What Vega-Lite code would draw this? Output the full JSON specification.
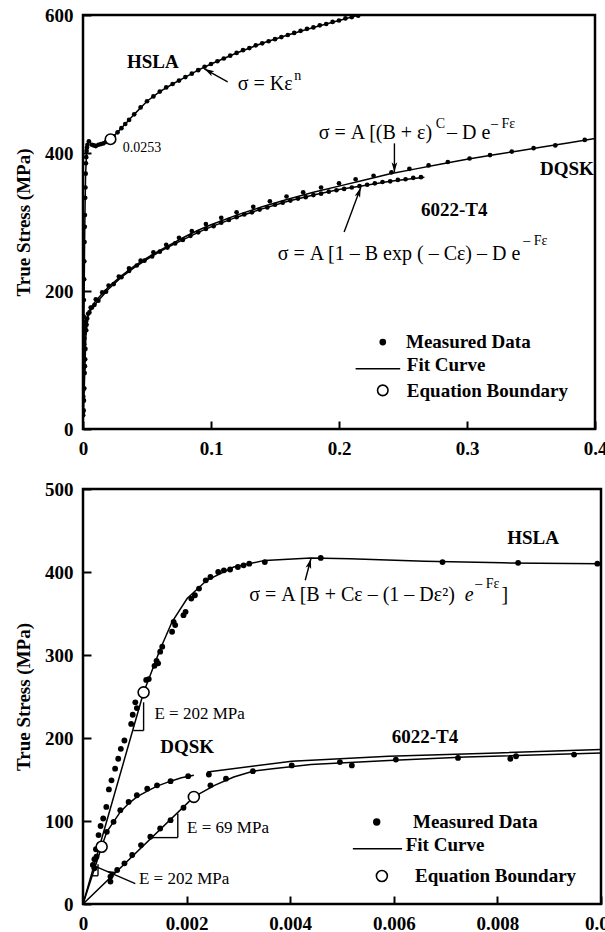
{
  "$schema": "https://vega.github.io/schema/vega-lite/v6.json",
  "background": "white",
  "padding": {"left": 13, "top": 4, "right": 0, "bottom": 0},
  "spacing": 60,
  "bounds": "flush",
  "config": {
    "font": "Liberation Serif",
    "view": {"stroke": "black", "strokeWidth": 2.5},
    "axis": {
      "labelFont": "Liberation Serif", "labelFontWeight": "bold", "labelFontSize": 19, "labelColor": "black",
      "titleFont": "Liberation Serif", "titleFontWeight": "bold", "titleFontSize": 19, "titleColor": "black",
      "titlePadding": 11,
      "domain": false, "grid": false, "tickColor": "black", "tickWidth": 2, "tickSize": -8,
      "labelPadding": 18, "labelFlush": false, "labelOverlap": false
    }
  },
  "datasets": {
    "measured": [
      {"panel":"top","curve":"HSLA","x":0.0001,"y":25},{"panel":"top","curve":"HSLA","x":0.0002,"y":47},{"panel":"top","curve":"HSLA","x":0.0003,"y":83},{"panel":"top","curve":"HSLA","x":0.0004,"y":103},{"panel":"top","curve":"HSLA","x":0.0005,"y":138},{"panel":"top","curve":"HSLA","x":0.0006,"y":163},{"panel":"top","curve":"HSLA","x":0.0007,"y":187},{"panel":"top","curve":"HSLA","x":0.0009,"y":217},{"panel":"top","curve":"HSLA","x":0.001,"y":243},{"panel":"top","curve":"HSLA","x":0.0012,"y":271},{"panel":"top","curve":"HSLA","x":0.0014,"y":293},{"panel":"top","curve":"HSLA","x":0.0015,"y":310},{"panel":"top","curve":"HSLA","x":0.0017,"y":335},{"panel":"top","curve":"HSLA","x":0.0019,"y":350},{"panel":"top","curve":"HSLA","x":0.0021,"y":370},{"panel":"top","curve":"HSLA","x":0.0023,"y":385},{"panel":"top","curve":"HSLA","x":0.0025,"y":394},{"panel":"top","curve":"HSLA","x":0.0028,"y":403},{"panel":"top","curve":"HSLA","x":0.0031,"y":408},{"panel":"top","curve":"HSLA","x":0.0035,"y":412},{"panel":"top","curve":"HSLA","x":0.0046,"y":417},{"panel":"top","curve":"HSLA","x":0.007,"y":412},{"panel":"top","curve":"HSLA","x":0.0085,"y":411},{"panel":"top","curve":"HSLA","x":0.01,"y":410},{"panel":"top","curve":"HSLA","x":0.012,"y":412},{"panel":"top","curve":"HSLA","x":0.014,"y":413},{"panel":"top","curve":"HSLA","x":0.016,"y":414},{"panel":"top","curve":"HSLA","x":0.018,"y":416},{"panel":"top","curve":"HSLA","x":0.024,"y":424},{"panel":"top","curve":"HSLA","x":0.027,"y":430},{"panel":"top","curve":"HSLA","x":0.03,"y":436},{"panel":"top","curve":"HSLA","x":0.033,"y":442},{"panel":"top","curve":"HSLA","x":0.036,"y":448},{"panel":"top","curve":"HSLA","x":0.04,"y":456},{"panel":"top","curve":"HSLA","x":0.045,"y":466},{"panel":"top","curve":"HSLA","x":0.05,"y":475},{"panel":"top","curve":"HSLA","x":0.055,"y":482},{"panel":"top","curve":"HSLA","x":0.06,"y":489},{"panel":"top","curve":"HSLA","x":0.065,"y":495},{"panel":"top","curve":"HSLA","x":0.07,"y":500},{"panel":"top","curve":"HSLA","x":0.075,"y":505},{"panel":"top","curve":"HSLA","x":0.08,"y":510},{"panel":"top","curve":"HSLA","x":0.085,"y":515},{"panel":"top","curve":"HSLA","x":0.09,"y":520},{"panel":"top","curve":"HSLA","x":0.095,"y":525},{"panel":"top","curve":"HSLA","x":0.1,"y":529},{"panel":"top","curve":"HSLA","x":0.105,"y":533},{"panel":"top","curve":"HSLA","x":0.11,"y":537},{"panel":"top","curve":"HSLA","x":0.115,"y":541},{"panel":"top","curve":"HSLA","x":0.12,"y":545},{"panel":"top","curve":"HSLA","x":0.125,"y":549},{"panel":"top","curve":"HSLA","x":0.13,"y":552},{"panel":"top","curve":"HSLA","x":0.135,"y":556},{"panel":"top","curve":"HSLA","x":0.14,"y":559},{"panel":"top","curve":"HSLA","x":0.145,"y":562},{"panel":"top","curve":"HSLA","x":0.15,"y":565},{"panel":"top","curve":"HSLA","x":0.155,"y":568},{"panel":"top","curve":"HSLA","x":0.16,"y":571},{"panel":"top","curve":"HSLA","x":0.165,"y":574},{"panel":"top","curve":"HSLA","x":0.17,"y":577},{"panel":"top","curve":"HSLA","x":0.175,"y":580},{"panel":"top","curve":"HSLA","x":0.18,"y":582},{"panel":"top","curve":"HSLA","x":0.185,"y":585},{"panel":"top","curve":"HSLA","x":0.19,"y":587},{"panel":"top","curve":"HSLA","x":0.195,"y":590},{"panel":"top","curve":"HSLA","x":0.2,"y":592},{"panel":"top","curve":"HSLA","x":0.205,"y":595},{"panel":"top","curve":"HSLA","x":0.21,"y":597},{"panel":"top","curve":"HSLA","x":0.215,"y":599},
      {"panel":"top","curve":"DQSK","x":0.0001,"y":20},{"panel":"top","curve":"DQSK","x":0.0002,"y":43},{"panel":"top","curve":"DQSK","x":0.0003,"y":57},{"panel":"top","curve":"DQSK","x":0.0004,"y":87},{"panel":"top","curve":"DQSK","x":0.0005,"y":99},{"panel":"top","curve":"DQSK","x":0.0006,"y":109},{"panel":"top","curve":"DQSK","x":0.0007,"y":113},{"panel":"top","curve":"DQSK","x":0.0009,"y":123},{"panel":"top","curve":"DQSK","x":0.001,"y":131},{"panel":"top","curve":"DQSK","x":0.0012,"y":139},{"panel":"top","curve":"DQSK","x":0.0014,"y":143},{"panel":"top","curve":"DQSK","x":0.0017,"y":148},{"panel":"top","curve":"DQSK","x":0.002,"y":154},{"panel":"top","curve":"DQSK","x":0.0024,"y":156},{"panel":"top","curve":"DQSK","x":0.004,"y":167},{"panel":"top","curve":"DQSK","x":0.006,"y":176},{"panel":"top","curve":"DQSK","x":0.01,"y":188},{"panel":"top","curve":"DQSK","x":0.015,"y":198},{"panel":"top","curve":"DQSK","x":0.02,"y":208},{"panel":"top","curve":"DQSK","x":0.028,"y":221},{"panel":"top","curve":"DQSK","x":0.036,"y":233},{"panel":"top","curve":"DQSK","x":0.045,"y":244},{"panel":"top","curve":"DQSK","x":0.055,"y":256},{"panel":"top","curve":"DQSK","x":0.065,"y":267},{"panel":"top","curve":"DQSK","x":0.075,"y":277},{"panel":"top","curve":"DQSK","x":0.085,"y":287},{"panel":"top","curve":"DQSK","x":0.096,"y":297},{"panel":"top","curve":"DQSK","x":0.108,"y":306},{"panel":"top","curve":"DQSK","x":0.12,"y":314},{"panel":"top","curve":"DQSK","x":0.133,"y":322},{"panel":"top","curve":"DQSK","x":0.146,"y":330},{"panel":"top","curve":"DQSK","x":0.159,"y":337},{"panel":"top","curve":"DQSK","x":0.172,"y":343},{"panel":"top","curve":"DQSK","x":0.186,"y":350},{"panel":"top","curve":"DQSK","x":0.2,"y":356},{"panel":"top","curve":"DQSK","x":0.213,"y":362},{"panel":"top","curve":"DQSK","x":0.227,"y":367},{"panel":"top","curve":"DQSK","x":0.241,"y":372},{"panel":"top","curve":"DQSK","x":0.255,"y":377},{"panel":"top","curve":"DQSK","x":0.27,"y":382},{"panel":"top","curve":"DQSK","x":0.285,"y":387},{"panel":"top","curve":"DQSK","x":0.302,"y":392},{"panel":"top","curve":"DQSK","x":0.318,"y":397},{"panel":"top","curve":"DQSK","x":0.335,"y":402},{"panel":"top","curve":"DQSK","x":0.352,"y":407},{"panel":"top","curve":"DQSK","x":0.369,"y":411},{"panel":"top","curve":"DQSK","x":0.392,"y":419},
      {"panel":"top","curve":"6022-T4","x":0.0005,"y":27},{"panel":"top","curve":"6022-T4","x":0.0007,"y":41},{"panel":"top","curve":"6022-T4","x":0.001,"y":59},{"panel":"top","curve":"6022-T4","x":0.0013,"y":81},{"panel":"top","curve":"6022-T4","x":0.0015,"y":91},{"panel":"top","curve":"6022-T4","x":0.0017,"y":101},{"panel":"top","curve":"6022-T4","x":0.0019,"y":116},{"panel":"top","curve":"6022-T4","x":0.0025,"y":143},{"panel":"top","curve":"6022-T4","x":0.0028,"y":151},{"panel":"top","curve":"6022-T4","x":0.0033,"y":160},{"panel":"top","curve":"6022-T4","x":0.005,"y":169},{"panel":"top","curve":"6022-T4","x":0.007,"y":176},{"panel":"top","curve":"6022-T4","x":0.009,"y":180},{"panel":"top","curve":"6022-T4","x":0.012,"y":186},{"panel":"top","curve":"6022-T4","x":0.018,"y":199},{"panel":"top","curve":"6022-T4","x":0.024,"y":210},{"panel":"top","curve":"6022-T4","x":0.03,"y":220},{"panel":"top","curve":"6022-T4","x":0.036,"y":229},{"panel":"top","curve":"6022-T4","x":0.042,"y":237},{"panel":"top","curve":"6022-T4","x":0.048,"y":244},{"panel":"top","curve":"6022-T4","x":0.054,"y":250},{"panel":"top","curve":"6022-T4","x":0.06,"y":257},{"panel":"top","curve":"6022-T4","x":0.066,"y":263},{"panel":"top","curve":"6022-T4","x":0.072,"y":269},{"panel":"top","curve":"6022-T4","x":0.078,"y":274},{"panel":"top","curve":"6022-T4","x":0.084,"y":280},{"panel":"top","curve":"6022-T4","x":0.09,"y":285},{"panel":"top","curve":"6022-T4","x":0.096,"y":290},{"panel":"top","curve":"6022-T4","x":0.102,"y":294},{"panel":"top","curve":"6022-T4","x":0.108,"y":299},{"panel":"top","curve":"6022-T4","x":0.114,"y":303},{"panel":"top","curve":"6022-T4","x":0.12,"y":307},{"panel":"top","curve":"6022-T4","x":0.126,"y":311},{"panel":"top","curve":"6022-T4","x":0.132,"y":314},{"panel":"top","curve":"6022-T4","x":0.138,"y":318},{"panel":"top","curve":"6022-T4","x":0.144,"y":321},{"panel":"top","curve":"6022-T4","x":0.15,"y":325},{"panel":"top","curve":"6022-T4","x":0.156,"y":328},{"panel":"top","curve":"6022-T4","x":0.162,"y":331},{"panel":"top","curve":"6022-T4","x":0.168,"y":334},{"panel":"top","curve":"6022-T4","x":0.174,"y":336},{"panel":"top","curve":"6022-T4","x":0.18,"y":339},{"panel":"top","curve":"6022-T4","x":0.186,"y":341},{"panel":"top","curve":"6022-T4","x":0.192,"y":344},{"panel":"top","curve":"6022-T4","x":0.198,"y":346},{"panel":"top","curve":"6022-T4","x":0.204,"y":348},{"panel":"top","curve":"6022-T4","x":0.21,"y":350},{"panel":"top","curve":"6022-T4","x":0.216,"y":352},{"panel":"top","curve":"6022-T4","x":0.222,"y":354},{"panel":"top","curve":"6022-T4","x":0.228,"y":356},{"panel":"top","curve":"6022-T4","x":0.234,"y":358},{"panel":"top","curve":"6022-T4","x":0.24,"y":359},{"panel":"top","curve":"6022-T4","x":0.246,"y":361},{"panel":"top","curve":"6022-T4","x":0.252,"y":362},{"panel":"top","curve":"6022-T4","x":0.258,"y":364},{"panel":"top","curve":"6022-T4","x":0.264,"y":365},
      {"panel":"bottom","curve":"HSLA","x":0.00019,"y":47},{"panel":"bottom","curve":"HSLA","x":0.00022,"y":54},{"panel":"bottom","curve":"HSLA","x":0.00025,"y":66},{"panel":"bottom","curve":"HSLA","x":0.0003,"y":83},{"panel":"bottom","curve":"HSLA","x":0.00034,"y":94},{"panel":"bottom","curve":"HSLA","x":0.00039,"y":103},{"panel":"bottom","curve":"HSLA","x":0.00045,"y":117},{"panel":"bottom","curve":"HSLA","x":0.0005,"y":138},{"panel":"bottom","curve":"HSLA","x":0.00055,"y":149},{"panel":"bottom","curve":"HSLA","x":0.00062,"y":163},{"panel":"bottom","curve":"HSLA","x":0.00068,"y":175},{"panel":"bottom","curve":"HSLA","x":0.00073,"y":187},{"panel":"bottom","curve":"HSLA","x":0.0008,"y":197},{"panel":"bottom","curve":"HSLA","x":0.00093,"y":217},{"panel":"bottom","curve":"HSLA","x":0.00096,"y":228},{"panel":"bottom","curve":"HSLA","x":0.00101,"y":243},{"panel":"bottom","curve":"HSLA","x":0.00104,"y":236},{"panel":"bottom","curve":"HSLA","x":0.00122,"y":270},{"panel":"bottom","curve":"HSLA","x":0.00127,"y":271},{"panel":"bottom","curve":"HSLA","x":0.00138,"y":287},{"panel":"bottom","curve":"HSLA","x":0.00142,"y":293},{"panel":"bottom","curve":"HSLA","x":0.00145,"y":290},{"panel":"bottom","curve":"HSLA","x":0.00149,"y":304},{"panel":"bottom","curve":"HSLA","x":0.00153,"y":310},{"panel":"bottom","curve":"HSLA","x":0.00172,"y":328},{"panel":"bottom","curve":"HSLA","x":0.00175,"y":340},{"panel":"bottom","curve":"HSLA","x":0.00178,"y":336},{"panel":"bottom","curve":"HSLA","x":0.00194,"y":348},{"panel":"bottom","curve":"HSLA","x":0.00198,"y":352},{"panel":"bottom","curve":"HSLA","x":0.00209,"y":368},{"panel":"bottom","curve":"HSLA","x":0.00216,"y":372},{"panel":"bottom","curve":"HSLA","x":0.00224,"y":380},{"panel":"bottom","curve":"HSLA","x":0.00237,"y":390},{"panel":"bottom","curve":"HSLA","x":0.00246,"y":394},{"panel":"bottom","curve":"HSLA","x":0.00261,"y":400},{"panel":"bottom","curve":"HSLA","x":0.00272,"y":402},{"panel":"bottom","curve":"HSLA","x":0.00284,"y":403},{"panel":"bottom","curve":"HSLA","x":0.00299,"y":406},{"panel":"bottom","curve":"HSLA","x":0.0031,"y":408},{"panel":"bottom","curve":"HSLA","x":0.00321,"y":410},{"panel":"bottom","curve":"HSLA","x":0.00351,"y":412},{"panel":"bottom","curve":"HSLA","x":0.00459,"y":417},{"panel":"bottom","curve":"HSLA","x":0.00694,"y":412},{"panel":"bottom","curve":"HSLA","x":0.0084,"y":411},{"panel":"bottom","curve":"HSLA","x":0.00993,"y":410},
      {"panel":"bottom","curve":"DQSK","x":0.00022,"y":43},{"panel":"bottom","curve":"DQSK","x":0.00026,"y":57},{"panel":"bottom","curve":"DQSK","x":0.00046,"y":87},{"panel":"bottom","curve":"DQSK","x":0.00059,"y":99},{"panel":"bottom","curve":"DQSK","x":0.00072,"y":113},{"panel":"bottom","curve":"DQSK","x":0.00088,"y":123},{"panel":"bottom","curve":"DQSK","x":0.00104,"y":131},{"panel":"bottom","curve":"DQSK","x":0.00124,"y":139},{"panel":"bottom","curve":"DQSK","x":0.00143,"y":143},{"panel":"bottom","curve":"DQSK","x":0.00169,"y":148},{"panel":"bottom","curve":"DQSK","x":0.00203,"y":154},{"panel":"bottom","curve":"DQSK","x":0.00243,"y":156},{"panel":"bottom","curve":"DQSK","x":0.00403,"y":167},{"panel":"bottom","curve":"DQSK","x":0.00496,"y":171},{"panel":"bottom","curve":"DQSK","x":0.00604,"y":174},{"panel":"bottom","curve":"DQSK","x":0.00724,"y":176},{"panel":"bottom","curve":"DQSK","x":0.00836,"y":178},{"panel":"bottom","curve":"DQSK","x":0.00948,"y":180},
      {"panel":"bottom","curve":"6022-T4","x":0.00053,"y":27},{"panel":"bottom","curve":"6022-T4","x":0.00053,"y":33},{"panel":"bottom","curve":"6022-T4","x":0.00066,"y":41},{"panel":"bottom","curve":"6022-T4","x":0.0008,"y":49},{"panel":"bottom","curve":"6022-T4","x":0.00095,"y":59},{"panel":"bottom","curve":"6022-T4","x":0.00112,"y":71},{"panel":"bottom","curve":"6022-T4","x":0.0013,"y":81},{"panel":"bottom","curve":"6022-T4","x":0.00149,"y":91},{"panel":"bottom","curve":"6022-T4","x":0.00169,"y":101},{"panel":"bottom","curve":"6022-T4","x":0.00194,"y":116},{"panel":"bottom","curve":"6022-T4","x":0.00246,"y":143},{"panel":"bottom","curve":"6022-T4","x":0.00276,"y":151},{"panel":"bottom","curve":"6022-T4","x":0.00328,"y":160},{"panel":"bottom","curve":"6022-T4","x":0.00519,"y":167},{"panel":"bottom","curve":"6022-T4","x":0.00825,"y":175}
    ],
    "fit": [
      {"panel":"top","part":"HSLA","x":0,"y":0},{"panel":"top","part":"HSLA","x":0.00117,"y":255},{"panel":"top","part":"HSLA","x":0.00149,"y":307},{"panel":"top","part":"HSLA","x":0.00201,"y":368},{"panel":"top","part":"HSLA","x":0.00291,"y":406},{"panel":"top","part":"HSLA","x":0.0044,"y":417},{"panel":"top","part":"HSLA","x":0.0066,"y":413},{"panel":"top","part":"HSLA","x":0.01,"y":410},{"panel":"top","part":"HSLA","x":0.014,"y":413},{"panel":"top","part":"HSLA","x":0.018,"y":416},{"panel":"top","part":"HSLA","x":0.0215,"y":420},{"panel":"top","part":"HSLA","x":0.027,"y":430},{"panel":"top","part":"HSLA","x":0.033,"y":442},{"panel":"top","part":"HSLA","x":0.04,"y":456},{"panel":"top","part":"HSLA","x":0.05,"y":475},{"panel":"top","part":"HSLA","x":0.06,"y":489},{"panel":"top","part":"HSLA","x":0.07,"y":500},{"panel":"top","part":"HSLA","x":0.08,"y":510},{"panel":"top","part":"HSLA","x":0.09,"y":520},{"panel":"top","part":"HSLA","x":0.1,"y":529},{"panel":"top","part":"HSLA","x":0.12,"y":545},{"panel":"top","part":"HSLA","x":0.14,"y":559},{"panel":"top","part":"HSLA","x":0.16,"y":571},{"panel":"top","part":"HSLA","x":0.18,"y":582},{"panel":"top","part":"HSLA","x":0.2,"y":592},{"panel":"top","part":"HSLA","x":0.22,"y":602},
      {"panel":"top","part":"DQSK","x":0,"y":0},{"panel":"top","part":"DQSK","x":0.00036,"y":69},{"panel":"top","part":"DQSK","x":0.00072,"y":111},{"panel":"top","part":"DQSK","x":0.00124,"y":136},{"panel":"top","part":"DQSK","x":0.00214,"y":155},{"panel":"top","part":"DQSK","x":0.005,"y":172},{"panel":"top","part":"DQSK","x":0.01,"y":186},{"panel":"top","part":"DQSK","x":0.02,"y":206},{"panel":"top","part":"DQSK","x":0.03,"y":222},{"panel":"top","part":"DQSK","x":0.04,"y":236},{"panel":"top","part":"DQSK","x":0.05,"y":248},{"panel":"top","part":"DQSK","x":0.06,"y":259},{"panel":"top","part":"DQSK","x":0.07,"y":269},{"panel":"top","part":"DQSK","x":0.08,"y":279},{"panel":"top","part":"DQSK","x":0.09,"y":288},{"panel":"top","part":"DQSK","x":0.1,"y":296},{"panel":"top","part":"DQSK","x":0.12,"y":310},{"panel":"top","part":"DQSK","x":0.14,"y":322},{"panel":"top","part":"DQSK","x":0.16,"y":333},{"panel":"top","part":"DQSK","x":0.18,"y":343},{"panel":"top","part":"DQSK","x":0.2,"y":352},{"panel":"top","part":"DQSK","x":0.22,"y":361},{"panel":"top","part":"DQSK","x":0.24,"y":370},{"panel":"top","part":"DQSK","x":0.26,"y":377},{"panel":"top","part":"DQSK","x":0.28,"y":384},{"panel":"top","part":"DQSK","x":0.3,"y":391},{"panel":"top","part":"DQSK","x":0.32,"y":397},{"panel":"top","part":"DQSK","x":0.34,"y":403},{"panel":"top","part":"DQSK","x":0.36,"y":409},{"panel":"top","part":"DQSK","x":0.38,"y":415},{"panel":"top","part":"DQSK","x":0.4,"y":421},
      {"panel":"top","part":"6022","x":0,"y":0},{"panel":"top","part":"6022","x":0.00214,"y":129},{"panel":"top","part":"6022","x":0.00291,"y":153},{"panel":"top","part":"6022","x":0.0044,"y":168},{"panel":"top","part":"6022","x":0.01,"y":182},{"panel":"top","part":"6022","x":0.02,"y":203},{"panel":"top","part":"6022","x":0.03,"y":220},{"panel":"top","part":"6022","x":0.04,"y":234},{"panel":"top","part":"6022","x":0.05,"y":246},{"panel":"top","part":"6022","x":0.06,"y":257},{"panel":"top","part":"6022","x":0.07,"y":267},{"panel":"top","part":"6022","x":0.08,"y":276},{"panel":"top","part":"6022","x":0.09,"y":285},{"panel":"top","part":"6022","x":0.1,"y":293},{"panel":"top","part":"6022","x":0.12,"y":307},{"panel":"top","part":"6022","x":0.14,"y":319},{"panel":"top","part":"6022","x":0.16,"y":330},{"panel":"top","part":"6022","x":0.18,"y":339},{"panel":"top","part":"6022","x":0.2,"y":347},{"panel":"top","part":"6022","x":0.22,"y":353},{"panel":"top","part":"6022","x":0.24,"y":359},{"panel":"top","part":"6022","x":0.2667,"y":365},
      {"panel":"top","part":"legend","x":0.213,"y":87.4},{"panel":"top","part":"legend","x":0.2478,"y":87.4},
      {"panel":"bottom","part":"HSLA","x":0,"y":0},{"panel":"bottom","part":"HSLA","x":0.00117,"y":255},{"panel":"bottom","part":"HSLA","x":0.00127,"y":271},{"panel":"bottom","part":"HSLA","x":0.00149,"y":307},{"panel":"bottom","part":"HSLA","x":0.00172,"y":340},{"panel":"bottom","part":"HSLA","x":0.00201,"y":368},{"panel":"bottom","part":"HSLA","x":0.00239,"y":390},{"panel":"bottom","part":"HSLA","x":0.00291,"y":406},{"panel":"bottom","part":"HSLA","x":0.00351,"y":414},{"panel":"bottom","part":"HSLA","x":0.0044,"y":417},{"panel":"bottom","part":"HSLA","x":0.00515,"y":416},{"panel":"bottom","part":"HSLA","x":0.0066,"y":413},{"panel":"bottom","part":"HSLA","x":0.0081,"y":411},{"panel":"bottom","part":"HSLA","x":0.01,"y":410},
      {"panel":"bottom","part":"DQSK-1","x":0,"y":0},{"panel":"bottom","part":"DQSK-1","x":0.00036,"y":69},{"panel":"bottom","part":"DQSK-1","x":0.00046,"y":87},{"panel":"bottom","part":"DQSK-1","x":0.00059,"y":99},{"panel":"bottom","part":"DQSK-1","x":0.00072,"y":111},{"panel":"bottom","part":"DQSK-1","x":0.00088,"y":121},{"panel":"bottom","part":"DQSK-1","x":0.00104,"y":129},{"panel":"bottom","part":"DQSK-1","x":0.00124,"y":136},{"panel":"bottom","part":"DQSK-1","x":0.00143,"y":142},{"panel":"bottom","part":"DQSK-1","x":0.00169,"y":148},{"panel":"bottom","part":"DQSK-1","x":0.0019,"y":152},{"panel":"bottom","part":"DQSK-1","x":0.00214,"y":155},
      {"panel":"bottom","part":"DQSK-2","x":0.0024,"y":159},{"panel":"bottom","part":"DQSK-2","x":0.00403,"y":172},{"panel":"bottom","part":"DQSK-2","x":0.0059,"y":178},{"panel":"bottom","part":"DQSK-2","x":0.008,"y":182},{"panel":"bottom","part":"DQSK-2","x":0.01,"y":186},
      {"panel":"bottom","part":"6022","x":0,"y":0},{"panel":"bottom","part":"6022","x":0.00214,"y":129},{"panel":"bottom","part":"6022","x":0.00254,"y":143},{"panel":"bottom","part":"6022","x":0.00291,"y":153},{"panel":"bottom","part":"6022","x":0.00328,"y":160},{"panel":"bottom","part":"6022","x":0.00366,"y":163},{"panel":"bottom","part":"6022","x":0.0044,"y":168},{"panel":"bottom","part":"6022","x":0.0059,"y":173},{"panel":"bottom","part":"6022","x":0.00739,"y":177},{"panel":"bottom","part":"6022","x":0.01,"y":182},
      {"panel":"bottom","part":"legend","x":0.00521,"y":66.6},{"panel":"bottom","part":"legend","x":0.00616,"y":66.6}
    ],
    "boundary": [
      {"panel":"top","curve":"HSLA","x":0.0215,"y":420},
      {"panel":"top","curve":"legend","x":0.2342,"y":56},
      {"panel":"bottom","curve":"HSLA","x":0.00117,"y":255},
      {"panel":"bottom","curve":"DQSK","x":0.00036,"y":69},
      {"panel":"bottom","curve":"6022-T4","x":0.00214,"y":129},
      {"panel":"bottom","curve":"legend","x":0.00577,"y":33.7}
    ],
    "legendDots": [
      {"panel":"top","x":0.2342,"y":126},
      {"panel":"bottom","x":0.00567,"y":98.8}
    ],
    "segments": [
      {"panel":"top","x":0.113,"y":503,"x2":0.0948,"y2":522},
      {"panel":"top","x":0.2433,"y":414,"x2":0.2433,"y2":372},
      {"panel":"top","x":0.204,"y":285.5,"x2":0.217,"y2":350},
      {"panel":"bottom","x":0.00429,"y":390,"x2":0.0044,"y2":416},
      {"panel":"bottom","x":0.00101,"y":24.5,"x2":0.00025,"y2":45},
      {"panel":"bottom","x":0.00117,"y":243,"x2":0.00117,"y2":209},
      {"panel":"bottom","x":0.00097,"y":209,"x2":0.00117,"y2":209},
      {"panel":"bottom","x":0.00183,"y":109,"x2":0.00183,"y2":80},
      {"panel":"bottom","x":0.00135,"y":80,"x2":0.00183,"y2":80},
      {"panel":"bottom","x":0.00029,"y":48,"x2":0.00029,"y2":34},
      {"panel":"bottom","x":0.00017,"y":34,"x2":0.00029,"y2":34}
    ],
    "arrowheads": [
      {"panel":"top","x":0.0948,"y":522,"angle":299},
      {"panel":"top","x":0.2433,"y":372,"angle":180},
      {"panel":"top","x":0.217,"y":350,"angle":20},
      {"panel":"bottom","x":0.0044,"y":416,"angle":15},
      {"panel":"bottom","x":0.00045,"y":40,"angle":293}
    ],
    "labels": [
      {"panel":"top","role":"curve","x":0.0545,"y":532,"text":"HSLA"},
      {"panel":"top","role":"curve","x":0.378,"y":377,"text":"DQSK"},
      {"panel":"top","role":"curve","x":0.29,"y":317,"text":"6022-T4"},
      {"panel":"top","role":"eq","x":0.1209,"y":500,"text":"σ = Kε"},
      {"panel":"top","role":"sup","x":0.165,"y":511,"text":"n"},
      {"panel":"top","role":"small","x":0.031,"y":407,"text":"0.0253"},
      {"panel":"top","role":"eq","x":0.1842,"y":429,"text":"σ = A [(B + ε)"},
      {"panel":"top","role":"sup","x":0.2755,"y":442,"text":"C"},
      {"panel":"top","role":"eq","x":0.2844,"y":429,"text":"– D e"},
      {"panel":"top","role":"sup","x":0.3187,"y":442,"text":"– Fε"},
      {"panel":"top","role":"eq","x":0.1521,"y":254,"text":"σ = A [1 – B exp ( – Cε) – D e"},
      {"panel":"top","role":"sup","x":0.344,"y":273,"text":"– Fε"},
      {"panel":"top","role":"legend","x":0.2523,"y":126,"text":"Measured Data"},
      {"panel":"top","role":"legend","x":0.253,"y":93,"text":"Fit Curve"},
      {"panel":"top","role":"legend","x":0.253,"y":55,"text":"Equation Boundary"},
      {"panel":"bottom","role":"curve","x":0.00869,"y":441,"text":"HSLA"},
      {"panel":"bottom","role":"curve","x":0.00201,"y":189,"text":"DQSK"},
      {"panel":"bottom","role":"curve","x":0.0066,"y":201,"text":"6022-T4"},
      {"panel":"bottom","role":"eq","x":0.00321,"y":372,"text":"σ = A [B + Cε – (1 – Dε²)"},
      {"panel":"bottom","role":"eqi","x":0.00754,"y":372,"text":"e"},
      {"panel":"bottom","role":"sup","x":0.00757,"y":385,"text":"– Fε"},
      {"panel":"bottom","role":"eq","x":0.00808,"y":372,"text":"]"},
      {"panel":"bottom","role":"note","x":0.00138,"y":229,"text":"E = 202 MPa"},
      {"panel":"bottom","role":"note","x":0.00201,"y":92,"text":"E = 69 MPa"},
      {"panel":"bottom","role":"note","x":0.00108,"y":30,"text":"E = 202 MPa"},
      {"panel":"bottom","role":"legend","x":0.00637,"y":99,"text":"Measured Data"},
      {"panel":"bottom","role":"legend","x":0.00623,"y":71,"text":"Fit Curve"},
      {"panel":"bottom","role":"legend","x":0.00641,"y":34,"text":"Equation Boundary"}
    ]
  },
  "vconcat": [
    {
      "width": 512,
      "height": 414,
      "encoding": {
        "x": {"field": "x", "type": "quantitative", "scale": {"domain": [0, 0.4], "nice": false, "zero": false},
              "axis": {"values": [0, 0.1, 0.2, 0.3, 0.4], "format": "~g", "title": null}},
        "y": {"field": "y", "type": "quantitative", "scale": {"domain": [0, 600], "nice": false, "zero": false},
              "axis": {"values": [0, 200, 400, 600], "title": "True Stress (MPa)"}}
      },
      "layer": [
        {"data": {"name": "fit"}, "transform": [{"filter": "datum.panel === 'top'"}],
         "mark": {"type": "line", "color": "black", "strokeWidth": 1.5, "clip": true},
         "encoding": {"detail": {"field": "part"}}},
        {"data": {"name": "measured"}, "transform": [{"filter": "datum.panel === 'top'"}],
         "mark": {"type": "point", "shape": "circle", "filled": true, "color": "black", "size": 22, "opacity": 1, "clip": true}},
        {"data": {"name": "legendDots"}, "transform": [{"filter": "datum.panel === 'top'"}],
         "mark": {"type": "point", "shape": "circle", "filled": true, "color": "black", "size": 45, "opacity": 1}},
        {"data": {"name": "boundary"}, "transform": [{"filter": "datum.panel === 'top'"}],
         "mark": {"type": "point", "shape": "circle", "filled": true, "fill": "white", "stroke": "black", "strokeWidth": 1.6, "size": 110, "opacity": 1}},
        {"data": {"name": "segments"}, "transform": [{"filter": "datum.panel === 'top'"}],
         "mark": {"type": "rule", "color": "black", "strokeWidth": 1.4},
         "encoding": {"x2": {"field": "x2"}, "y2": {"field": "y2"}}},
        {"data": {"name": "arrowheads"}, "transform": [{"filter": "datum.panel === 'top'"}],
         "mark": {"type": "point", "shape": "M0,0L0.55,1.9L0,1.45L-0.55,1.9Z", "filled": true, "color": "black", "size": 110, "opacity": 1},
         "encoding": {"angle": {"field": "angle", "type": "quantitative", "scale": null}}},
        {"data": {"name": "labels"}, "transform": [{"filter": "datum.panel === 'top' && datum.role === 'curve'"}],
         "mark": {"type": "text", "font": "Liberation Serif", "fontWeight": "bold", "fontSize": 19, "align": "center", "baseline": "middle", "color": "black"},
         "encoding": {"text": {"field": "text"}}},
        {"data": {"name": "labels"}, "transform": [{"filter": "datum.panel === 'top' && datum.role === 'legend'"}],
         "mark": {"type": "text", "font": "Liberation Serif", "fontWeight": "bold", "fontSize": 19, "align": "left", "baseline": "middle", "color": "black"},
         "encoding": {"text": {"field": "text"}}},
        {"data": {"name": "labels"}, "transform": [{"filter": "datum.panel === 'top' && datum.role === 'eq'"}],
         "mark": {"type": "text", "font": "Liberation Serif", "fontSize": 20, "align": "left", "baseline": "middle", "color": "black"},
         "encoding": {"text": {"field": "text"}}},
        {"data": {"name": "labels"}, "transform": [{"filter": "datum.panel === 'top' && datum.role === 'sup'"}],
         "mark": {"type": "text", "font": "Liberation Serif", "fontSize": 14, "align": "left", "baseline": "middle", "color": "black"},
         "encoding": {"text": {"field": "text"}}},
        {"data": {"name": "labels"}, "transform": [{"filter": "datum.panel === 'top' && datum.role === 'small'"}],
         "mark": {"type": "text", "font": "Liberation Serif", "fontSize": 14, "align": "left", "baseline": "middle", "color": "black"},
         "encoding": {"text": {"field": "text"}}}
      ]
    },
    {
      "width": 518,
      "height": 415,
      "encoding": {
        "x": {"field": "x", "type": "quantitative", "scale": {"domain": [0, 0.01], "nice": false, "zero": false},
              "axis": {"values": [0, 0.002, 0.004, 0.006, 0.008, 0.01], "format": "~g", "title": null}},
        "y": {"field": "y", "type": "quantitative", "scale": {"domain": [0, 500], "nice": false, "zero": false},
              "axis": {"values": [0, 100, 200, 300, 400, 500], "title": "True Stress (MPa)"}}
      },
      "layer": [
        {"data": {"name": "fit"}, "transform": [{"filter": "datum.panel === 'bottom'"}],
         "mark": {"type": "line", "color": "black", "strokeWidth": 1.5, "clip": true},
         "encoding": {"detail": {"field": "part"}}},
        {"data": {"name": "measured"}, "transform": [{"filter": "datum.panel === 'bottom'"}],
         "mark": {"type": "point", "shape": "circle", "filled": true, "color": "black", "size": 34, "opacity": 1, "clip": true}},
        {"data": {"name": "legendDots"}, "transform": [{"filter": "datum.panel === 'bottom'"}],
         "mark": {"type": "point", "shape": "circle", "filled": true, "color": "black", "size": 55, "opacity": 1}},
        {"data": {"name": "boundary"}, "transform": [{"filter": "datum.panel === 'bottom'"}],
         "mark": {"type": "point", "shape": "circle", "filled": true, "fill": "white", "stroke": "black", "strokeWidth": 1.6, "size": 120, "opacity": 1}},
        {"data": {"name": "segments"}, "transform": [{"filter": "datum.panel === 'bottom'"}],
         "mark": {"type": "rule", "color": "black", "strokeWidth": 1.4},
         "encoding": {"x2": {"field": "x2"}, "y2": {"field": "y2"}}},
        {"data": {"name": "arrowheads"}, "transform": [{"filter": "datum.panel === 'bottom'"}],
         "mark": {"type": "point", "shape": "M0,0L0.55,1.9L0,1.45L-0.55,1.9Z", "filled": true, "color": "black", "size": 110, "opacity": 1},
         "encoding": {"angle": {"field": "angle", "type": "quantitative", "scale": null}}},
        {"data": {"name": "labels"}, "transform": [{"filter": "datum.panel === 'bottom' && datum.role === 'curve'"}],
         "mark": {"type": "text", "font": "Liberation Serif", "fontWeight": "bold", "fontSize": 19, "align": "center", "baseline": "middle", "color": "black"},
         "encoding": {"text": {"field": "text"}}},
        {"data": {"name": "labels"}, "transform": [{"filter": "datum.panel === 'bottom' && datum.role === 'legend'"}],
         "mark": {"type": "text", "font": "Liberation Serif", "fontWeight": "bold", "fontSize": 19, "align": "left", "baseline": "middle", "color": "black"},
         "encoding": {"text": {"field": "text"}}},
        {"data": {"name": "labels"}, "transform": [{"filter": "datum.panel === 'bottom' && datum.role === 'eq'"}],
         "mark": {"type": "text", "font": "Liberation Serif", "fontSize": 20, "align": "left", "baseline": "middle", "color": "black"},
         "encoding": {"text": {"field": "text"}}},
        {"data": {"name": "labels"}, "transform": [{"filter": "datum.panel === 'bottom' && datum.role === 'eqi'"}],
         "mark": {"type": "text", "font": "Liberation Serif", "fontSize": 20, "fontStyle": "italic", "align": "right", "baseline": "middle", "color": "black"},
         "encoding": {"text": {"field": "text"}}},
        {"data": {"name": "labels"}, "transform": [{"filter": "datum.panel === 'bottom' && datum.role === 'sup'"}],
         "mark": {"type": "text", "font": "Liberation Serif", "fontSize": 14, "align": "left", "baseline": "middle", "color": "black"},
         "encoding": {"text": {"field": "text"}}},
        {"data": {"name": "labels"}, "transform": [{"filter": "datum.panel === 'bottom' && datum.role === 'note'"}],
         "mark": {"type": "text", "font": "Liberation Serif", "fontSize": 17, "align": "left", "baseline": "middle", "color": "black"},
         "encoding": {"text": {"field": "text"}}}
      ]
    }
  ]
}
